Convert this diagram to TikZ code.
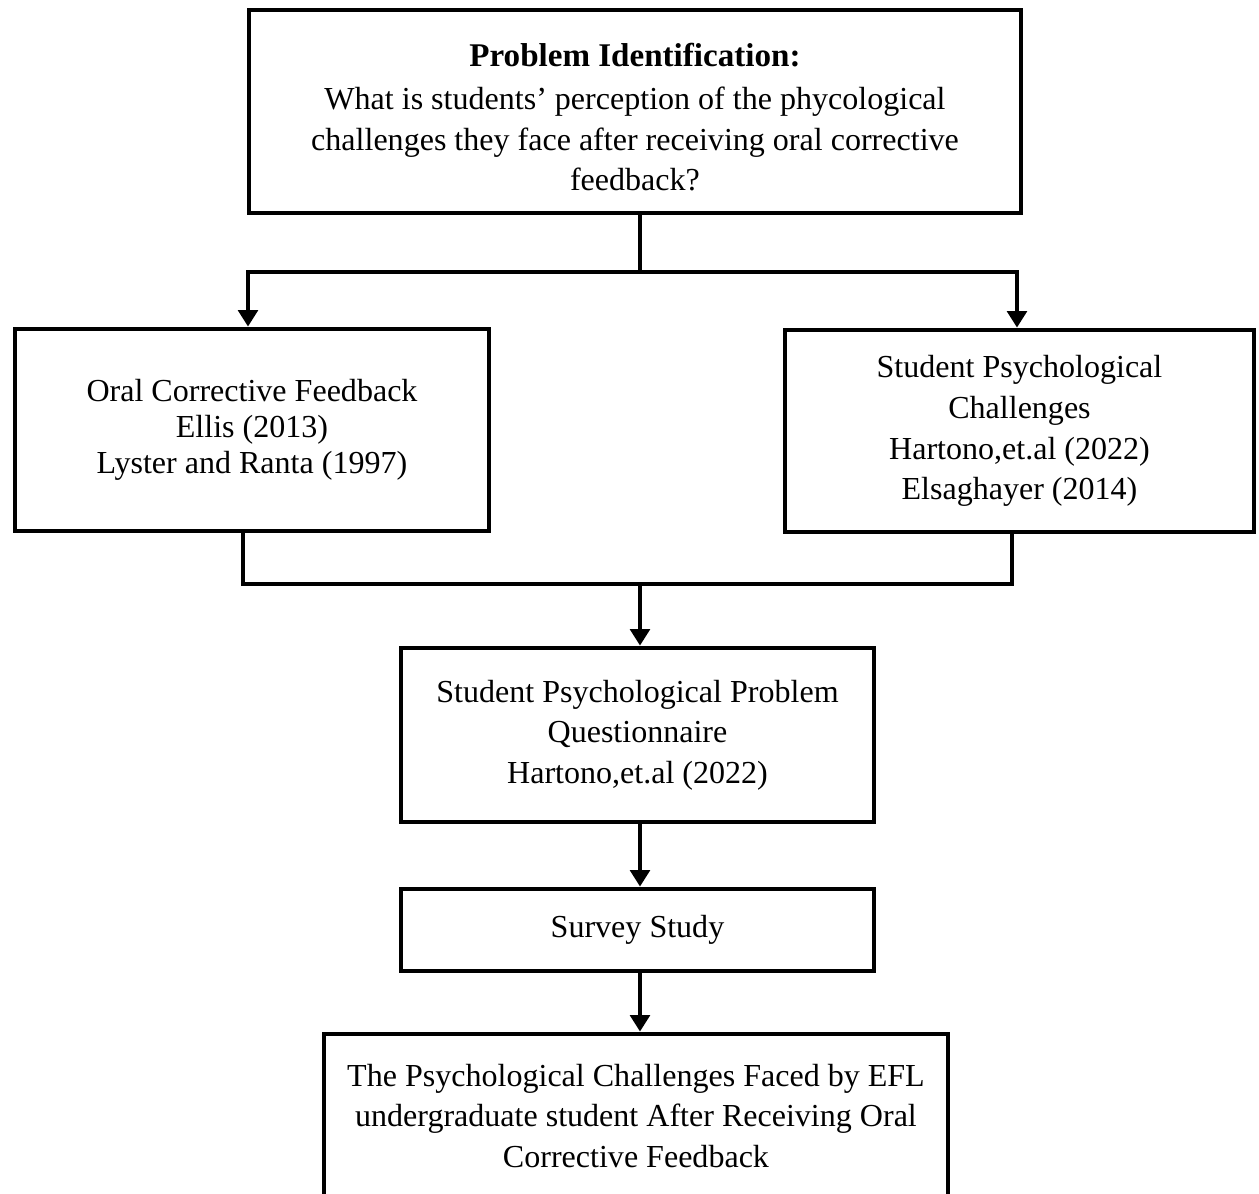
\documentclass[tikz,border=0pt]{standalone}
\usepackage{fontspec}
\setmainfont{Liberation Serif}
\usetikzlibrary{arrows.meta, positioning}
\newcommand{\pxu}{0.01338cm}
\tikzset{
  box/.style={draw, line width=1.8pt, align=center, inner sep=0pt,
    font=\fontsize{12.2}{15.5}\selectfont},
  link/.style={line width=1.8pt},
  arr/.style={link, -{Triangle[length=6.3pt, width=7.4pt]}},
}
\begin{document}
\begin{tikzpicture}[x=\pxu, y=-\pxu]
  \useasboundingbox (0,0) rectangle (1259,1194);
  % boxes
  \node[box, minimum width=772*\pxu, minimum height=203*\pxu] (prob) at (635,111.5)
    {\rule{0pt}{13.2pt}{\fontsize{12.6}{16}\selectfont\bfseries Problem Identification:}\\[1pt]
     What is students’ perception of the phycological\\
     challenges they face after receiving oral corrective\\ feedback?};
  \node[box, minimum width=474*\pxu, minimum height=202*\pxu,
    font=\fontsize{12.2}{13.8}\selectfont] (ocf) at (252,430)
    {Oral Corrective Feedback\\ Ellis (2013)\\ Lyster and Ranta (1997)};
  \node[box, minimum width=469*\pxu, minimum height=202*\pxu] (spc) at (1019.5,431)
    {Student Psychological\\ Challenges\\ Hartono,et.al (2022)\\ Elsaghayer (2014)};
  \node[box, minimum width=473*\pxu, minimum height=174*\pxu] (spq) at (637.5,735)
    {Student Psychological Problem\\ Questionnaire\\ Hartono,et.al (2022)};
  \node[box, minimum width=473*\pxu, minimum height=82*\pxu] (survey) at (637.5,930)
    {Survey Study};
  \node[box, minimum width=624*\pxu, minimum height=164*\pxu] (result) at (636,1116)
    {The Psychological Challenges Faced by EFL\\ undergraduate student After Receiving Oral\\
     Corrective Feedback};
  % connectors
  \coordinate (split) at (640,272);
  \coordinate (merge) at (640,584);
  \draw[link] (split |- prob.south) -- (split);
  \draw[arr] (split) -| ([xshift=-4*\pxu]ocf.north);
  \draw[arr] (split) -| ([xshift=-2.5*\pxu]spc.north);
  \draw[link] ([xshift=-9*\pxu]ocf.south) |- (merge) -| ([xshift=-7.5*\pxu]spc.south);
  \draw[arr] (merge) -- (merge |- spq.north);
  \draw[arr] (merge |- spq.south) -- (merge |- survey.north);
  \draw[arr] (merge |- survey.south) -- (merge |- result.north);
\end{tikzpicture}
\end{document}
